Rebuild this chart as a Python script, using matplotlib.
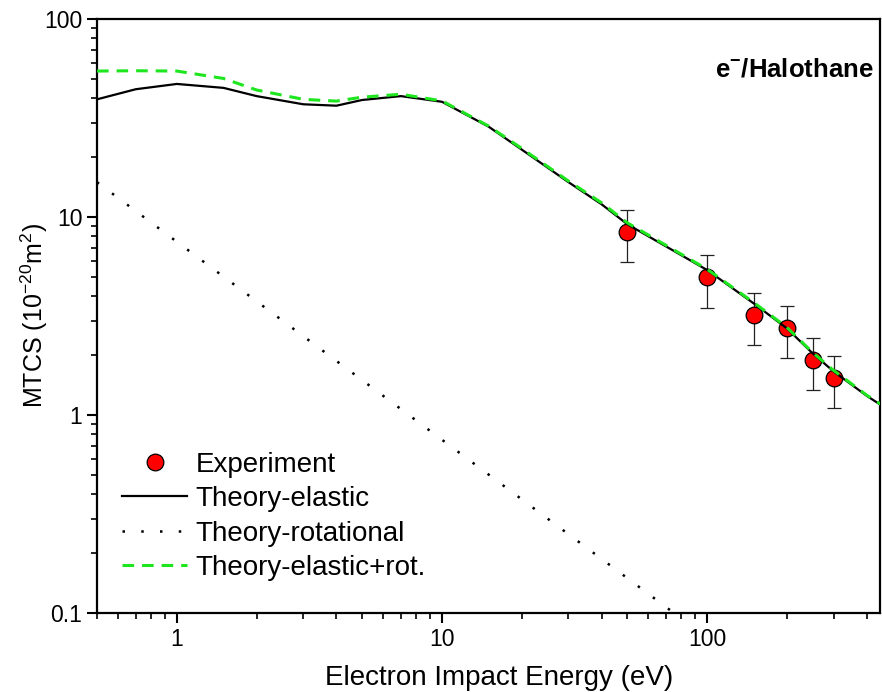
import matplotlib
matplotlib.use('Agg')
import matplotlib.pyplot as plt
from matplotlib.ticker import NullFormatter, LogLocator

plt.rcParams['font.family'] = ['Liberation Sans', 'DejaVu Sans']
plt.rcParams['mathtext.fontset'] = 'custom'
plt.rcParams['mathtext.rm'] = 'Liberation Sans'
plt.rcParams['mathtext.bf'] = 'Liberation Sans:bold'

# theory curves
energy = [0.5, 0.7, 1, 1.5, 2, 3, 4, 5, 7, 10, 15, 20, 30, 40, 50,
          100, 150, 200, 250, 300, 400, 500]
elastic = [39.3, 44.2, 47.0, 44.9, 40.8, 37.1, 36.5, 39.0, 40.8, 38.2, 28.6,
           21.9, 15.0, 11.6, 9.2, 5.4, 3.66, 2.74, 2.05, 1.66, 1.25, 1.03]
elastic_rot = [54.6, 54.8, 54.6, 50.1, 43.8, 39.3, 38.5, 40.3, 41.7, 38.6, 28.8,
               22.2, 15.2, 11.8, 9.35, 5.45, 3.7, 2.77, 2.07, 1.68, 1.26, 1.04]

energy_rot = [0.5, 1, 10, 100]
rotational = [15.0, 7.5, 0.75, 0.075]

# measurements
energy_exp = [50, 100, 150, 200, 250, 300]
mtcs_exp = [8.4, 4.95, 3.2, 2.75, 1.9, 1.53]
mtcs_err = [2.5, 1.46, 0.95, 0.8, 0.56, 0.45]

fig = plt.figure(figsize=(8.82, 6.92), dpi=100)
ax = fig.add_axes([0.110, 0.1142, 0.888, 0.8583])

ax.errorbar(energy_exp, mtcs_exp, yerr=mtcs_err, fmt='none', ecolor='#222222',
            elinewidth=0.9, capsize=5, capthick=0.9, zorder=2)
ax.plot(energy_exp, mtcs_exp, 'o', color='red', markeredgecolor='black',
        markeredgewidth=0.9, markersize=12, zorder=3, label='Experiment')
ax.plot(energy, elastic, '-', color='black', lw=1.6, zorder=4, label='Theory-elastic')
ax.plot(energy_rot, rotational, color='black', lw=1.8, linestyle=(0, (1, 6.5)),
        zorder=4, label='Theory-rotational')
ax.plot(energy, elastic_rot, color='#1ee61e', lw=2.2, linestyle=(0, (3.8, 2.6)),
        zorder=5, label='Theory-elastic+rot.')

ax.set_xscale('log')
ax.set_yscale('log')
ax.set_xlim(0.5, 450)
ax.set_ylim(0.1, 100)

ax.set_xticks([1, 10, 100])
ax.set_xticklabels(['1', '10', '100'])
ax.set_yticks([0.1, 1, 10, 100])
ax.set_yticklabels(['0.1', '1', '10', '100'])
ax.xaxis.set_minor_locator(LogLocator(base=10, subs=range(2, 10)))
ax.yaxis.set_minor_locator(LogLocator(base=10, subs=range(2, 10)))
ax.xaxis.set_minor_formatter(NullFormatter())
ax.yaxis.set_minor_formatter(NullFormatter())

for s in ax.spines.values():
    s.set_linewidth(1.6)
ax.tick_params(which='both', direction='out', top=False, right=False, labelsize=16.5)
ax.tick_params(which='major', length=7, width=1.5)
ax.tick_params(which='minor', length=4.5, width=1.2)

ax.set_xlabel('Electron Impact Energy (eV)', fontsize=20)
ax.xaxis.set_label_coords(0.513, -0.088)
ax.set_ylabel(r'MTCS (10$^{\mathregular{-20}}$m$^{\mathregular{2}}$)', fontsize=18,
              labelpad=-4)

ax.text(0.991, 0.915, r'e$^{\mathbf{-}}$/Halothane', transform=ax.transAxes,
        ha='right', va='center', fontsize=18.5, fontweight='bold')

ax.legend(loc='lower left', bbox_to_anchor=(0.0, 0.012), frameon=False, fontsize=20,
          handlelength=2.35, handletextpad=0.3, labelspacing=0.3, borderaxespad=0.5)

fig.savefig('out.png', dpi=100)
